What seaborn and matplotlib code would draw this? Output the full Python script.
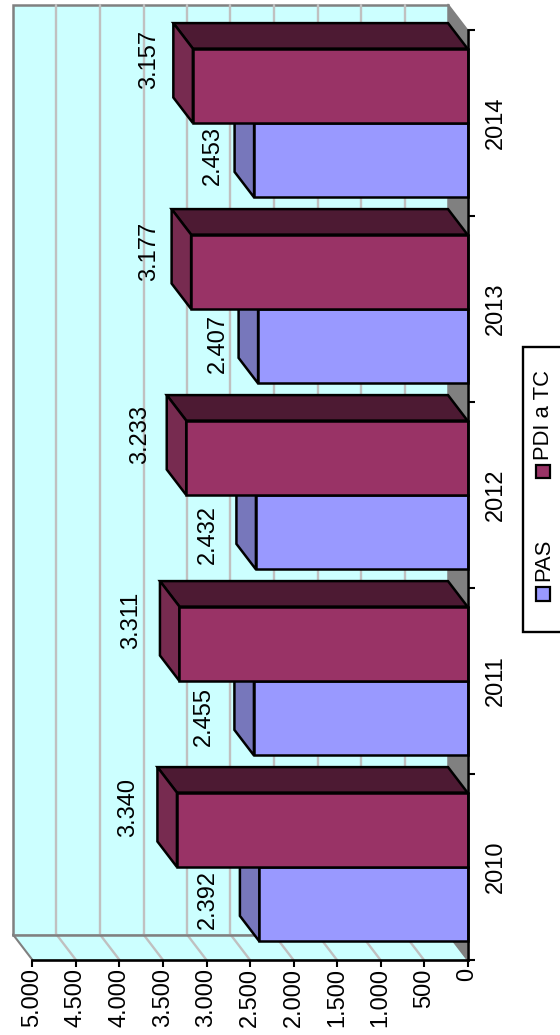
import matplotlib
matplotlib.use("Agg")
import matplotlib.pyplot as plt
import seaborn as sns
import pandas as pd
import numpy as np
from matplotlib.patches import Polygon, Rectangle
from matplotlib.lines import Line2D
from matplotlib.transforms import IdentityTransform

# ---- data ----
years = ["2010", "2011", "2012", "2013", "2014"]
pas = [2392, 2455, 2432, 2407, 2453]
pdi = [3340, 3311, 3233, 3177, 3157]
series_names = ["PAS", "PDI a TC"]
value_ticks = [0, 500, 1000, 1500, 2000, 2500, 3000, 3500, 4000, 4500, 5000]
value_tick_labels = ["0", "500", "1.000", "1.500", "2.000", "2.500", "3.000", "3.500", "4.000", "4.500", "5.000"]

# ---- style ----
colors = {"PAS": "#9999FF", "PDI a TC": "#993366"}
side_colors = {"PAS": "#7777BB", "PDI a TC": "#772B50"}
top_colors = {"PAS": "#4D4D80", "PDI a TC": "#4D1A33"}
wall_color = "#CCFFFF"
grid_color = "#C0C0C0"
border_color = "#808080"
DX, DY = -19.5, 25.5        # depth of the 3D box in pixels (display coordinates)
EDGE = 1.8
FS = 17.0
# label offsets from the middle of the front bar end, pixels (right, up)
pas_label_dx = [-52, -50, -48, -40, -41]
pas_label_dy = [5, 2, -2, 3, 5]
pdi_label_dx = [-48.5, -48, -46, -42, -43.5]
pdi_label_dy = [22, 23, 23, 20, 26]

sns.set_theme(style="white")
plt.rcParams["font.family"] = ["Liberation Sans", "DejaVu Sans"]
W, H = 560, 1035
fig = plt.figure(figsize=(W / 100, H / 100), dpi=100, facecolor="white")
ax = fig.add_axes([32.5 / W, (H - 960) / H, 435 / W, 930 / H])
ax.patch.set_visible(False)

df = pd.DataFrame({
    "year": years * 2,
    "value": pas + pdi,
    "series": [series_names[0]] * 5 + [series_names[1]] * 5,
})
sns.barplot(data=df, y="year", x="value", hue="series", order=years, hue_order=series_names,
            palette=colors, width=0.8, gap=0, dodge=True, saturation=1, legend=False,
            edgecolor="black", linewidth=EDGE, ax=ax)
ax.set_xlim(5000, 0)
ax.set_ylim(-0.5, 4.5)
ax.set_xlabel("")
ax.set_ylabel("")

# axis cosmetics
for s in ("top", "left"):
    ax.spines[s].set_visible(False)
for s in ("bottom", "right"):
    ax.spines[s].set_visible(True)
    ax.spines[s].set_color("black")
    ax.spines[s].set_linewidth(1.9)
    ax.spines[s].set_zorder(8)
ax.yaxis.tick_right()
ax.set_xticks(value_ticks)
ax.set_xticklabels(value_tick_labels, rotation=90, fontsize=FS, color="black")
ax.tick_params(axis="x", length=5, width=1.5, color="black", pad=1, bottom=True)
for t in ax.get_xticklabels():
    t.set_va("top")
    t.set_ha("center")
ax.set_yticks(range(len(years)))
ax.set_yticklabels(years, rotation=90, va="center", fontsize=FS, color="black")
ax.set_yticks(np.arange(len(years) + 1) - 0.5, minor=True)
ax.tick_params(axis="y", which="major", length=0, pad=12.5, right=True, left=False)
ax.tick_params(axis="y", which="minor", length=5, width=1.5, color="black", right=True, left=False)
ax.grid(False)

fig.canvas.draw()
to_px = ax.transData.transform


def pts(*xy):
    return np.array([to_px(p) for p in xy])


def back(p):
    return p + np.array([DX, DY])


def poly(p, fc, ec, lw, z):
    ax.add_patch(Polygon(p, closed=True, facecolor=fc, edgecolor=ec, linewidth=lw,
                         transform=IdentityTransform(), zorder=z, joinstyle="miter", clip_on=False))


def line(p, q, c, lw, z):
    ax.add_line(Line2D([p[0], q[0]], [p[1], q[1]], color=c, linewidth=lw,
                       transform=IdentityTransform(), zorder=z, clip_on=False))


# box: back wall, floor, side wall
xmax, xmin = value_ticks[-1], value_ticks[0]
fl, fr, tl, tr = pts((xmax, -0.5), (xmin, -0.5), (xmax, 4.5), (xmin, 4.5))
poly([back(fl), back(fr), back(tr), back(tl)], wall_color, border_color, 1.8, 0.5)
poly([fl, fr, back(fr), back(fl)], wall_color, "none", 0, 0.6)
poly([fr, tr, back(tr), back(fr)], border_color, "none", 0, 0.7)
for v in value_ticks[1:-1]:
    b = pts((v, -0.5))[0]
    t = pts((v, 4.5))[0]
    line(b, back(b), grid_color, 1.7, 1)
    line(back(b), back(t), grid_color, 1.7, 1)
line(fl, back(fl), border_color, 1.5, 1.2)
line(back(fl), back(fr), border_color, 1.8, 1.2)
line(back(fr), fr, border_color, 1.2, 1.2)
line(back(tr), tr, border_color, 1.2, 1.2)

# bars: front faces come from seaborn, depth faces derive from them
bars = [b for b in ax.patches if isinstance(b, Rectangle)]
names = [series_names[0]] * 5 + [series_names[1]] * 5
for bar, name in zip(bars, names):
    z = 3 if name == series_names[0] else 4
    y0, h, v = bar.get_y(), bar.get_height(), bar.get_width()
    e0, e1, r0, r1 = pts((v, y0), (v, y0 + h), (0, y0), (0, y0 + h))
    poly([e1, r1, back(r1), back(e1)], top_colors[name], "black", EDGE, z)
    poly([e0, e1, back(e1), back(e0)], side_colors[name], "black", EDGE, z)
    bar.set_zorder(z + 0.1)
    bar.set_clip_on(False)

# data labels
ax.set_zorder(2)
for i, y in enumerate(range(len(years))):
    for vals, off, dxs, dys in ((pas, 0.2, pas_label_dx, pas_label_dy),
                                (pdi, -0.2, pdi_label_dx, pdi_label_dy)):
        # PAS sits on the lower half of each category, PDI a TC on the upper half
        yy = y - off
        txt = f"{vals[i]:,}".replace(",", ".")
        ax.annotate(txt, xy=(vals[i], yy), xycoords="data",
                    xytext=(dxs[i] * 0.72, dys[i] * 0.72), textcoords="offset points",
                    rotation=90, ha="center", va="center", fontsize=FS, color="black", zorder=9)


# legend, turned with the rest of the chart
def fx(x):
    return x / W


def fy(y):
    return 1 - y / H


fig.add_artist(Rectangle((fx(523), fy(632)), 50 / W, 285 / H, transform=fig.transFigure,
                         facecolor="white", edgecolor="black", linewidth=1.7))
legend_swatch_y = [594, 472]
legend_text_y = [581, 460]
for name, sy, ty in zip(series_names, legend_swatch_y, legend_text_y):
    fig.add_artist(Rectangle((fx(536), fy(sy + 6.5)), 13.5 / W, 13.5 / H, transform=fig.transFigure,
                             facecolor=colors[name], edgecolor="black", linewidth=1.6))
    fig.text(fx(543.5), fy(ty), name, rotation=90, ha="center", va="bottom", fontsize=15.8, color="black")

fig.savefig("out.png", dpi=100, facecolor="white")
